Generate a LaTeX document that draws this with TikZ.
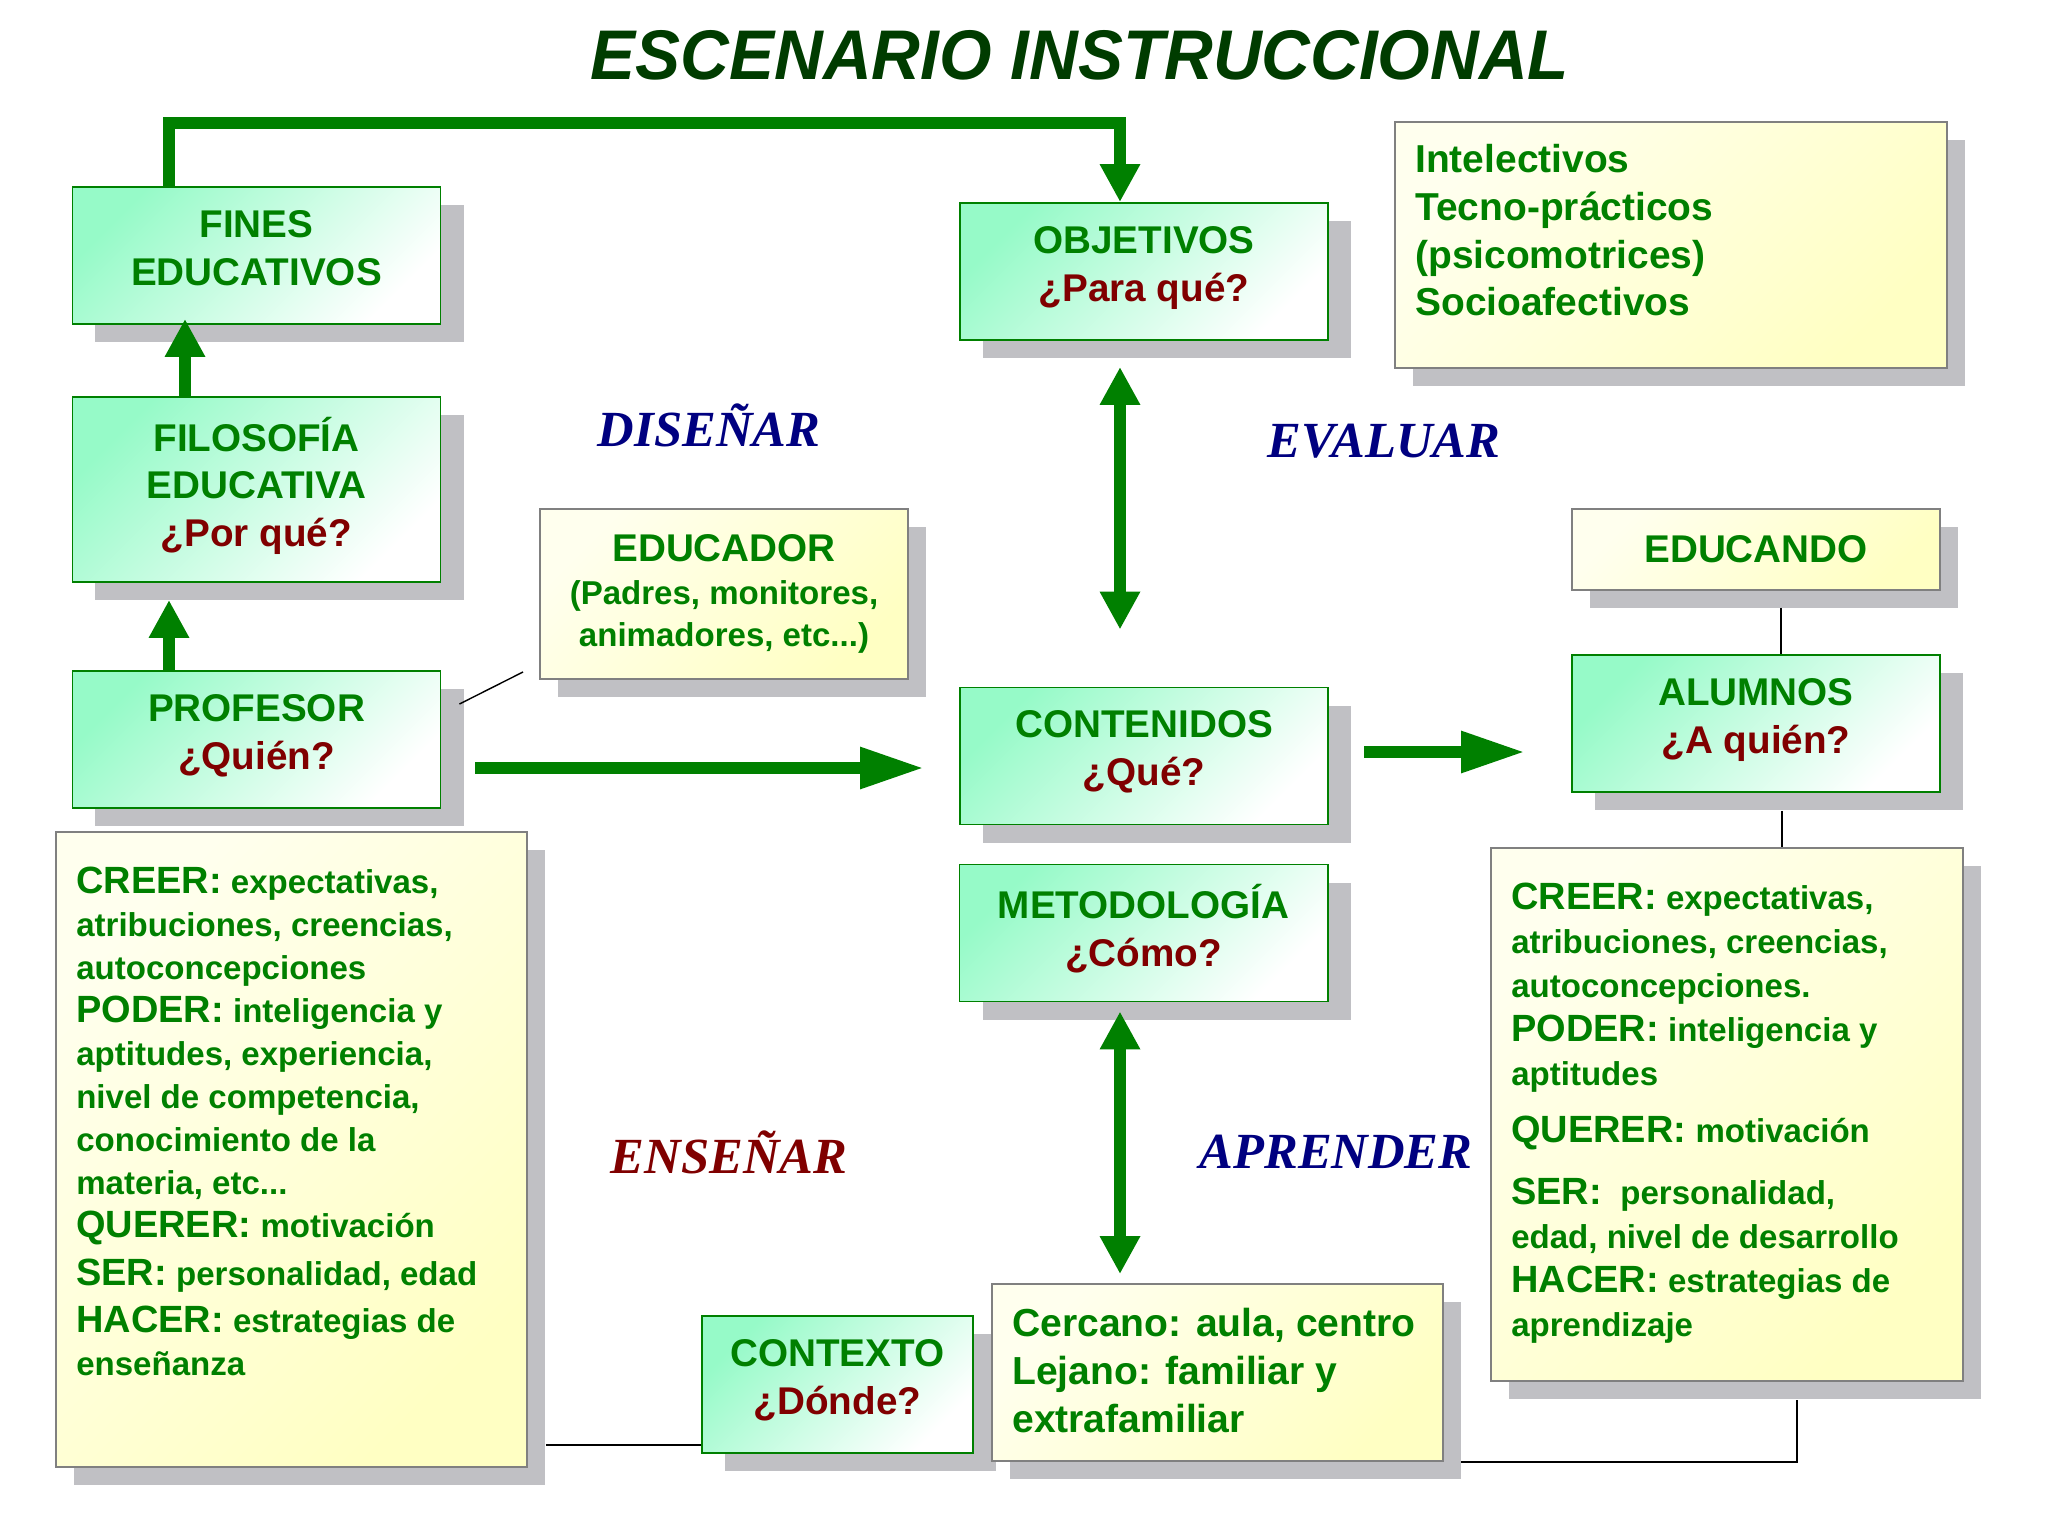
\documentclass[tikz,border=0pt]{standalone}
\usepackage{fontspec}
\setmainfont{Liberation Sans}
\newfontfamily\serifbi{Liberation Serif}
\usepackage{tikz}
\usetikzlibrary{arrows.meta,positioning,calc,shadows}
\definecolor{titgreen}{RGB}{0,60,0}
\definecolor{dkgreen}{RGB}{0,128,0}
\definecolor{qred}{RGB}{128,0,0}
\definecolor{vnavy}{RGB}{0,0,128}
\definecolor{mint}{RGB}{150,250,200}
\definecolor{paleyel}{RGB}{255,255,238}
\definecolor{yel}{RGB}{255,255,195}
\definecolor{shgray}{RGB}{192,192,196}
\definecolor{bordgray}{RGB}{128,128,128}
\newcommand{\qq}[1]{\textcolor{qred}{#1}}
\newcommand{\kw}[1]{{\fontsize{27}{31}\selectfont #1}}
\newcommand{\sm}[1]{{\fontsize{23.5}{30}\selectfont #1}}
\newcommand{\lift}{\\[-23pt]\mbox{}}

\begin{document}
\begin{tikzpicture}[x=0.25mm, y=-0.25mm, every node/.style={font=\bfseries\fontsize{27.5}{34}\selectfont, text=dkgreen},
 gshad/.style={drop shadow={shadow xshift=5.75mm, shadow yshift=-4.5mm, fill=shgray, opacity=1}},
 yshad/.style={drop shadow={shadow xshift=4.5mm, shadow yshift=-4.5mm, fill=shgray, opacity=1}},
 gbox/.style={draw=dkgreen, line width=1.4pt, top color=mint, bottom color=white, shading angle=45, align=center, minimum width=92mm, minimum height=34.25mm, inner sep=0pt, gshad},
 ybox/.style={draw=bordgray, line width=1.4pt, top color=paleyel, bottom color=yel, shading angle=45, align=center, inner sep=0pt, yshad},
 txt/.style={anchor=north west, align=left, inner sep=0pt},
 big/.style={font=\bfseries\fontsize{23.5}{30.6}\selectfont},
 verb/.style={font=\serifbi\bfseries\itshape\fontsize{36}{40}\selectfont},
 fat/.style={draw=dkgreen, line width=3mm, line join=miter},
 vtip/.style={fat, -{Triangle[length=9.5mm, width=9.5mm]}},
 vboth/.style={fat, {Triangle[length=9.5mm, width=9.5mm]}-{Triangle[length=9.5mm, width=9.5mm]}},
 htip/.style={fat, -{Triangle[length=16mm, width=9.75mm]}},
 thinline/.style={draw=black, line width=1pt}]
\useasboundingbox[fill=white] (0,0) rectangle (2048,1536);
\node[font=\bfseries\itshape\fontsize{50}{55}\selectfont, text=titgreen] (title) at (1080,55) {\scalebox{0.96}[1]{ESCENARIO INSTRUCCIONAL}};
% left column
\node[gbox] (fines) at (256.5,255.5) {FINES\\EDUCATIVOS\lift};
\node[gbox, minimum height=46.25mm] (filo) at (256.5,489.5) {FILOSOFÍA\\EDUCATIVA\\\qq{¿Por qué?}\lift};
\node[gbox] (prof) at (256.5,739.5) {PROFESOR\\\qq{¿Quién?}\lift};
\node[ybox, minimum width=92mm, minimum height=42.5mm] (educador) at (724,594) {EDUCADOR\\[-4pt]\sm{(Padres, monitores,}\\[-4pt]\sm{animadores, etc...)}};
\node[ybox, minimum width=117.75mm, minimum height=158.75mm] (profbox) at (291.5,1149.5) {};
\node[txt, big] (proftxt) at ([shift={(21,36)}]profbox.north west) {\kw{CREER:} expectativas,\\atribuciones, creencias,\\autoconcepciones\\\kw{PODER:} inteligencia y\\aptitudes, experiencia,\\nivel de competencia,\\conocimiento de la\\materia, etc...\\\kw{QUERER:} motivación\\[3pt]\kw{SER:} personalidad, edad\\[3pt]\kw{HACER:} estrategias de\\enseñanza};
% middle column
\node[gbox] (obj) at (1144,271.5) {OBJETIVOS\\\qq{¿Para qué?}\lift};
\node[gbox] (cont) at (1144,756) {CONTENIDOS\\\qq{¿Qué?}\lift};
\node[gbox] (metod) at (1143.5,933) {METODOLOGÍA\\\qq{¿Cómo?}\lift};
\node[gbox, minimum width=67.75mm] (contexto) at (837.5,1384.5) {CONTEXTO\\\qq{¿Dónde?}\lift};
\node[ybox, minimum width=112.75mm, minimum height=44.25mm] (cercano) at (1217.5,1372.5) {};
\node[txt, font=\bfseries\fontsize{27.8}{34}\selectfont] (cercanotxt) at ([shift={(21,25)}]cercano.north west) {Cercano: aula, centro\\Lejano: familiar y\\extrafamiliar};
% right column
\node[ybox, minimum width=138mm, minimum height=61.5mm] (intel) at (1671,245) {};
\node[txt, font=\bfseries\fontsize{27.7}{34}\selectfont] (inteltxt) at ([shift={(21,23)}]intel.north west) {Intelectivos\\Tecno-prácticos\\(psicomotrices)\\Socioafectivos};
\node[ybox, minimum width=92mm, minimum height=20.25mm] (educando) at (1756,549.5) {EDUCANDO};
\node[gbox] (alum) at (1756,723.5) {ALUMNOS\\\qq{¿A quién?}\lift};
\node[ybox, minimum width=118mm, minimum height=133.25mm] (alumbox) at (1727,1114.5) {};
\node[txt, font=\bfseries\fontsize{23.5}{31.3}\selectfont] (alumtxt) at ([shift={(21,36)}]alumbox.north west) {\kw{CREER:} expectativas,\\atribuciones, creencias,\\autoconcepciones.\\\kw{PODER:} inteligencia y\\aptitudes\\[9pt]\kw{QUERER:} motivación\\[13pt]\kw{SER:}\ \ personalidad,\\edad, nivel de desarrollo\\\kw{HACER:} estrategias de\\aprendizaje};
% verbs
\node[verb, text=vnavy] (disenar) at (709,425) {DISEÑAR};
\node[verb, text=vnavy] (evaluar) at (1384,441) {EVALUAR};
\node[verb, text=qred] (ensenar) at (729,1152) {ENSEÑAR};
\node[verb, text=vnavy] (aprender) at (1336,1152) {APRENDER};
% connectors
\coordinate (topL) at (169,123);
\coordinate (topR) at (1120,123);
\draw[vtip] (fines.north -| topL) -- (topL) -- (topR) -- (obj.north -| topR);
\draw[vtip] ([shift={(-71.5,0)}]filo.north) -- ([shift={(-71.5,-6)}]fines.south);
\draw[vtip] ([shift={(-87.5,0)}]prof.north) -- ([shift={(-87.5,17)}]filo.south);
\draw[htip] ([shift={(34,28.5)}]prof.east) -- ([shift={(-35,12)}]cont.west);
\draw[htip] ([shift={(35,-4)}]cont.east) -- ([shift={(-46,28.5)}]alum.west);
\draw[vboth] ([shift={(-24,26)}]obj.south) -- ([shift={(-24,-57)}]cont.north);
\draw[vboth] ([shift={(-23.5,9)}]metod.south) -- ([shift={(-97.5,-9)}]cercano.north);
\draw[thinline] ([shift={(18,-35.5)}]prof.east) -- ([shift={(-16,-8)}]educador.south west);
\draw[thinline] ([shift={(25,17)}]educando.south) -- ([shift={(25,0)}]alum.north);
\draw[thinline] ([shift={(26,18)}]alum.south) -- ([shift={(55,0)}]alumbox.north);
\draw[thinline] ([shift={(18,295.5)}]profbox.east) -- ([shift={(0,60.5)}]contexto.west);
\draw[thinline] ([shift={(70,18)}]alumbox.south) |- ([shift={(17,89.5)}]cercano.east);
\end{tikzpicture}
\end{document}
